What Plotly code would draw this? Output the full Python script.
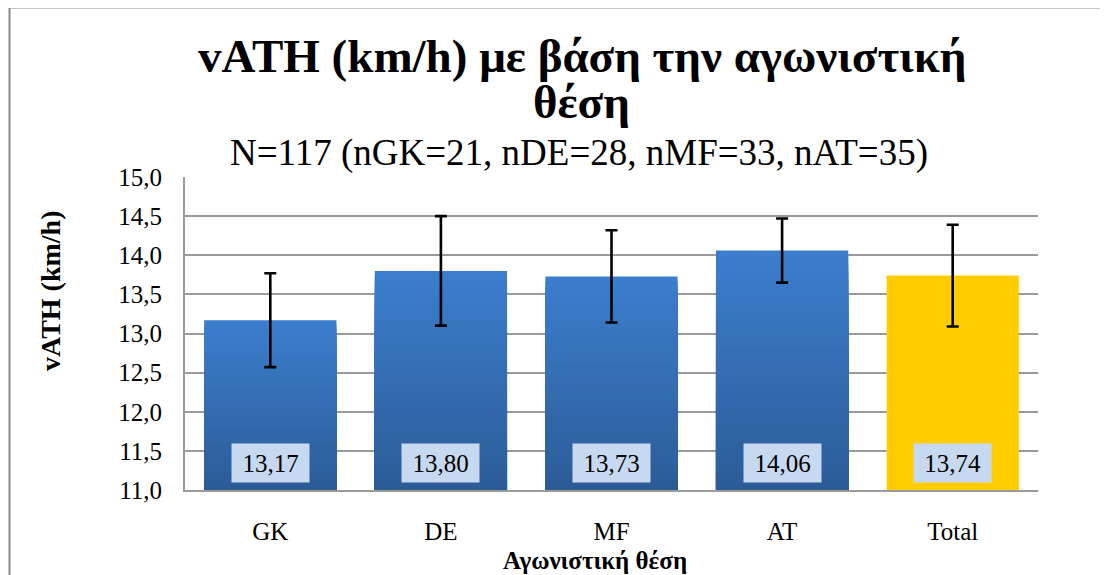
import plotly.graph_objects as go

# ---- data ----
categories = ["GK", "DE", "MF", "AT", "Total"]
means = [13.17, 13.80, 13.73, 14.06, 13.74]
sds = [0.60, 0.70, 0.59, 0.41, 0.65]
title_line1 = "vATH (km/h) με βάση την αγωνιστική"
title_line2 = "θέση"
subtitle = "N=117 (nGK=21, nDE=28, nMF=33, nAT=35)"
x_title = "Αγωνιστική θέση"
y_title = "vATH (km/h)"
y_min, y_max = 11.0, 15.0

# ---- geometry (pixels, as seen in the page; page body adds an 8px offset) ----
OFF = 8
W, H = 1108, 575
L, R, T, B = 185 - OFF, 1038 - OFF, 177 - OFF, 490 - OFF
FONT = "Liberation Serif"

def px(xp):
    return (xp - OFF - L) / (R - L)

def py(yp):
    return (B - (yp - OFF)) / (B - T)

def hex2rgb(h):
    h = h.lstrip("#")
    return tuple(int(h[i:i + 2], 16) for i in (0, 2, 4))

top_c = hex2rgb("#3C7ECE")
bot_c = hex2rgb("#2C5C97")

fig = go.Figure()

blue_cats = categories[:4]
blue_vals = means[:4]
N = 40
bw = 0.775
for k in range(N):
    frac_top = 1 - k / N
    f = 1 - (k + 0.5) / N  # color position (1 = top)
    c = tuple(round(bot_c[i] + (top_c[i] - bot_c[i]) * f) for i in range(3))
    fig.add_trace(go.Bar(
        x=blue_cats,
        y=[(v - y_min) * frac_top for v in blue_vals],
        base=[y_min] * len(blue_vals),
        marker=dict(color="rgb(%d,%d,%d)" % c, line=dict(width=0)),
        width=bw, showlegend=False, hoverinfo="skip",
    ))

fig.add_trace(go.Bar(
    x=categories[4:], y=[means[4] - y_min], base=[y_min],
    marker=dict(color="#FFCC00", line=dict(width=0)),
    width=bw, showlegend=False,
))

fig.add_trace(go.Scatter(
    x=categories, y=means, mode="markers",
    marker=dict(size=1, color="rgba(0,0,0,0)"),
    error_y=dict(type="data", array=sds, color="black", thickness=2.6, width=6),
    showlegend=False,
))

annotations = []
for cat, v in zip(categories, means):
    annotations.append(dict(
        x=cat, y=y_min, xref="x", yref="y", yanchor="bottom", yshift=7,
        text=f"{v:.2f}".replace(".", ","), showarrow=False,
        font=dict(family=FONT, size=25, color="black"),
        bgcolor="#C6D9F1", width=77, height=38, borderpad=0,
    ))

annotations += [
    dict(x=px(582), y=py(56), xref="paper", yref="paper", text=f"<b>{title_line1}</b>",
         showarrow=False, xanchor="center", yanchor="middle",
         font=dict(family=FONT, size=47, color="black")),
    dict(x=px(581), y=py(102), xref="paper", yref="paper", text=f"<b>{title_line2}</b>",
         showarrow=False, xanchor="center", yanchor="middle",
         font=dict(family=FONT, size=47, color="black")),
    dict(x=px(579), y=py(153), xref="paper", yref="paper", text=subtitle,
         showarrow=False, xanchor="center", yanchor="middle",
         font=dict(family=FONT, size=37, color="black")),
    dict(x=px(595), y=py(560), xref="paper", yref="paper", text=f"<b>{x_title}</b>",
         showarrow=False, xanchor="center", yanchor="middle",
         font=dict(family=FONT, size=25, color="black")),
    dict(x=px(50), y=py(291), xref="paper", yref="paper", text=f"<b>{y_title}</b>",
         showarrow=False, xanchor="center", yanchor="middle", textangle=-90,
         font=dict(family=FONT, size=28, color="black")),
]

shapes = [
    dict(type="rect", xref="paper", yref="paper",
         x0=px(9.5), x1=px(1200), y0=py(7.5), y1=py(700),
         line=dict(color="#8A8A8A", width=2), fillcolor="rgba(0,0,0,0)", layer="below"),
]

fig.update_layout(
    width=W, height=H,
    margin=dict(l=L, r=W - R, t=T, b=H - B, autoexpand=False),
    paper_bgcolor="white", plot_bgcolor="white",
    barmode="overlay", bargap=0.2,
    separators=",.",
    font=dict(family=FONT, size=25, color="black"),
    annotations=annotations, shapes=shapes,
    showlegend=False,
    xaxis=dict(
        type="category", categoryorder="array", categoryarray=categories,
        showgrid=False, showline=True, linecolor="#9A9A9A", linewidth=2,
        ticks="outside", ticklen=18, tickcolor="rgba(0,0,0,0)",
        tickfont=dict(family=FONT, size=25, color="black"),
        zeroline=False, fixedrange=True, automargin=False,
    ),
    yaxis=dict(
        range=[y_min, y_max], dtick=0.5, tick0=11, tickformat=".1f",
        showgrid=True, gridcolor="#9A9A9A", gridwidth=1.6,
        showline=True, linecolor="#9A9A9A", linewidth=2,
        ticks="outside", ticklen=16, tickcolor="rgba(0,0,0,0)",
        tickfont=dict(family=FONT, size=25, color="black"),
        zeroline=False, fixedrange=True, automargin=False,
    ),
)

fig.write_html("out.html")
